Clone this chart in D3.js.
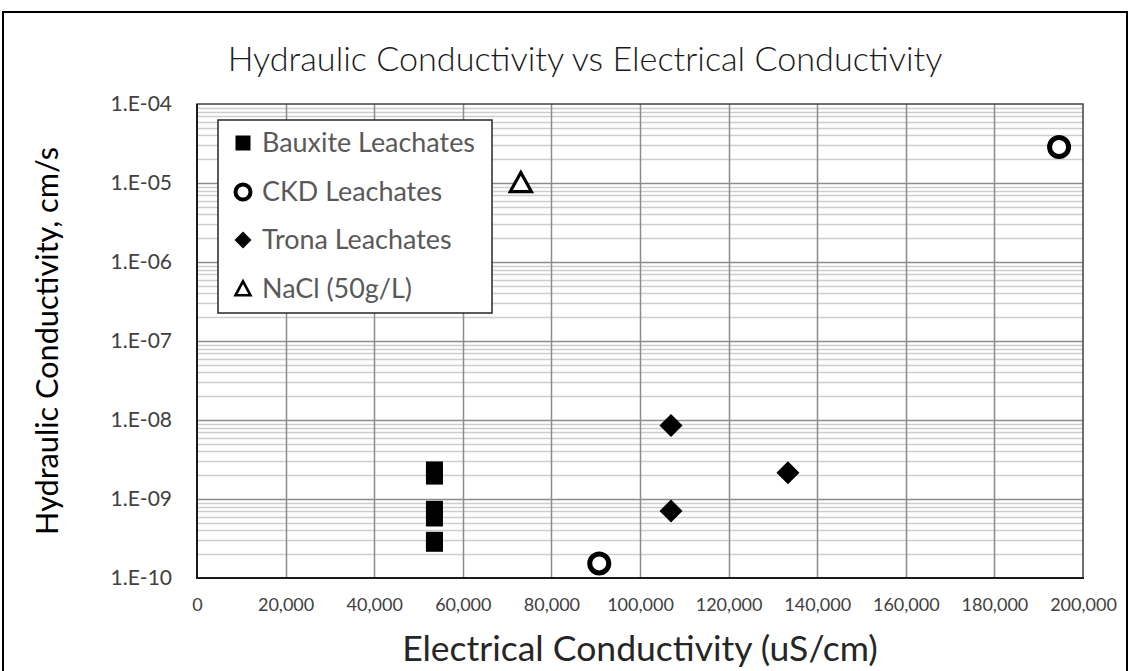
<!DOCTYPE html>
<html>
<head>
<meta charset="utf-8">
<script src="https://cdn.jsdelivr.net/npm/d3@7"></script>
<style>
  html, body { margin: 0; padding: 0; background: #fff; }
  svg { display: block; font-family: Lato, "Open Sans", "Liberation Sans", sans-serif; }
</style>
</head>
<body>
<svg id="chart" width="1129" height="671"></svg>
<script>
// ---- Data ----
const bauxiteX = [53600, 53600, 53600, 53600, 53600, 53600];
const bauxiteY = [2.33e-9, 1.95e-9, 7.4e-10, 5.75e-10, 3.0e-10, 2.75e-10];
const ckdX = [90800, 194600];
const ckdY = [1.53e-10, 2.85e-5];
const tronaX = [107000, 107000, 133400];
const tronaY = [8.5e-9, 7.05e-10, 2.15e-9];
const naclX = [73100];
const naclY = [1.0e-5];

const seriesNames = ["Bauxite Leachates", "CKD Leachates", "Trona Leachates", "NaCl (50g/L)"];
const xTickValues = [0, 20000, 40000, 60000, 80000, 100000, 120000, 140000, 160000, 180000, 200000];
const yTickValues = [1e-4, 1e-5, 1e-6, 1e-7, 1e-8, 1e-9, 1e-10];
const yTickLabels = ["1.E-04", "1.E-05", "1.E-06", "1.E-07", "1.E-08", "1.E-09", "1.E-10"];
const chartTitle = "Hydraulic Conductivity vs Electrical Conductivity";
const xTitle = "Electrical Conductivity (uS/cm)";
const yTitle = "Hydraulic Conductivity, cm/s";

// ---- Layout ----
const svg = d3.select("#chart");
const L = 197, R = 1083, T = 104, B = 578;

const x = d3.scaleLinear().domain([0, 200000]).range([L, R]);
const y = d3.scaleLog().domain([1e-10, 1e-4]).range([B, T]);

function fit(sel, target) {
  const n = sel.node();
  const w = n.getComputedTextLength();
  const fs = parseFloat(sel.attr("font-size"));
  sel.attr("font-size", (fs * target / w).toFixed(2));
}

// outer frame
svg.append("rect").attr("x", 3).attr("y", 12).attr("width", 1124).attr("height", 670)
  .attr("fill", "#fff").attr("stroke", "#000").attr("stroke-width", 2);

// minor horizontal gridlines
const minor = [];
for (let e = -10; e < -4; e++) for (let m = 2; m <= 9; m++) minor.push(m * Math.pow(10, e));
svg.append("g").selectAll("line").data(minor).join("line")
  .attr("x1", L).attr("x2", R)
  .attr("y1", d => Math.round(y(d)) + 0.5).attr("y2", d => Math.round(y(d)) + 0.5)
  .attr("stroke", "#cdcdcd").attr("stroke-width", 1.4);

// major horizontal gridlines
svg.append("g").selectAll("line").data(yTickValues.slice(1, -1)).join("line")
  .attr("x1", L).attr("x2", R)
  .attr("y1", d => Math.round(y(d)) + 0.5).attr("y2", d => Math.round(y(d)) + 0.5)
  .attr("stroke", "#8c8c8c").attr("stroke-width", 1.5);

// vertical gridlines
svg.append("g").selectAll("line").data(xTickValues.slice(1, -1)).join("line")
  .attr("y1", T).attr("y2", B)
  .attr("x1", d => Math.round(x(d)) + 0.5).attr("x2", d => Math.round(x(d)) + 0.5)
  .attr("stroke", "#8c8c8c").attr("stroke-width", 1.5);

// plot border
svg.append("rect").attr("x", L).attr("y", T).attr("width", R - L).attr("height", B - T)
  .attr("fill", "none").attr("stroke", "#404040").attr("stroke-width", 1.5);
svg.append("line").attr("x1", L).attr("x2", L).attr("y1", T).attr("y2", B + 1)
  .attr("stroke", "#1a1a1a").attr("stroke-width", 2);
svg.append("line").attr("x1", L - 1).attr("x2", R + 1).attr("y1", B).attr("y2", B)
  .attr("stroke", "#1a1a1a").attr("stroke-width", 2);

// axes (labels only)
const yAxis = d3.axisLeft(y).tickValues(yTickValues)
  .tickFormat((d, i) => yTickLabels[i]).tickSize(0).tickPadding(25);
const gy = svg.append("g").attr("transform", `translate(${L},0)`).call(yAxis);
gy.select(".domain").remove();
gy.selectAll("text").attr("font-size", 21).attr("fill", "#404040")
  .attr("font-family", "Lato, 'Open Sans', sans-serif");

const xAxis = d3.axisBottom(x).tickValues(xTickValues)
  .tickFormat(d3.format(",")).tickSize(0).tickPadding(20);
const gx = svg.append("g").attr("transform", `translate(0,${B})`).call(xAxis);
gx.select(".domain").remove();
gx.selectAll("text").attr("font-size", 18).attr("fill", "#404040")
  .attr("font-family", "Lato, 'Open Sans', sans-serif");

// titles
const tt = svg.append("text").attr("x", 585).attr("y", 71).attr("text-anchor", "middle")
  .attr("font-size", 30).attr("fill", "#1a1a1a").attr("font-weight", 300).text(chartTitle);
fit(tt, 715);

const xt = svg.append("text").attr("x", 640).attr("y", 661).attr("text-anchor", "middle")
  .attr("font-size", 27).attr("fill", "#262626").text(xTitle);
fit(xt, 476);

const yt = svg.append("text").attr("transform", "translate(58,341) rotate(-90)")
  .attr("text-anchor", "middle").attr("font-size", 25).attr("fill", "#000").text(yTitle);
fit(yt, 388);

// ---- markers ----
const marks = svg.append("g");
function square(g, cx, cy, s) {
  g.append("rect").attr("x", cx - s / 2).attr("y", cy - s / 2).attr("width", s).attr("height", s).attr("fill", "#000");
}
function circle(g, cx, cy, r, sw) {
  g.append("circle").attr("cx", cx).attr("cy", cy).attr("r", r).attr("fill", "#fff").attr("stroke", "#000").attr("stroke-width", sw);
}
function diamond(g, cx, cy, h) {
  g.append("path").attr("d", `M${cx},${cy - h}L${cx + h},${cy}L${cx},${cy + h}L${cx - h},${cy}Z`).attr("fill", "#000");
}
function triangle(g, cx, cy, w, h, sw) {
  g.append("path").attr("d", `M${cx},${cy - h * 0.55}L${cx + w / 2},${cy + h * 0.45}L${cx - w / 2},${cy + h * 0.45}Z`)
    .attr("fill", "#fff").attr("stroke", "#000").attr("stroke-width", sw).attr("stroke-linejoin", "miter");
}

bauxiteX.forEach((v, i) => square(marks, x(v), y(bauxiteY[i]), 17));
ckdX.forEach((v, i) => circle(marks, x(v), y(ckdY[i]), 9.5, 5));
tronaX.forEach((v, i) => diamond(marks, x(v), y(tronaY[i]), 11.5));
naclX.forEach((v, i) => triangle(marks, x(v), y(naclY[i]), 21, 19, 3.2));

// ---- legend ----
const lg = svg.append("g");
lg.append("rect").attr("x", 218).attr("y", 120).attr("width", 274).attr("height", 193)
  .attr("fill", "#fff").attr("stroke", "#262626").attr("stroke-width", 1.5);
const rowY = [143, 192, 240, 289];
const mx = 243;
square(lg, mx, rowY[0], 15);
circle(lg, mx, rowY[1], 7.5, 4);
diamond(lg, mx, rowY[2], 8.5);
triangle(lg, mx, rowY[3], 15, 14, 2.6);
seriesNames.forEach((s, i) => {
  const t = lg.append("text").attr("x", 262).attr("y", rowY[i]).attr("dy", "0.35em")
    .attr("font-size", 21).attr("fill", "#595959").text(s);
  if (i === 0) fit(t, 213);
});
const lfs = lg.select("text").attr("font-size");
lg.selectAll("text").attr("font-size", lfs);
</script>
</body>
</html>
